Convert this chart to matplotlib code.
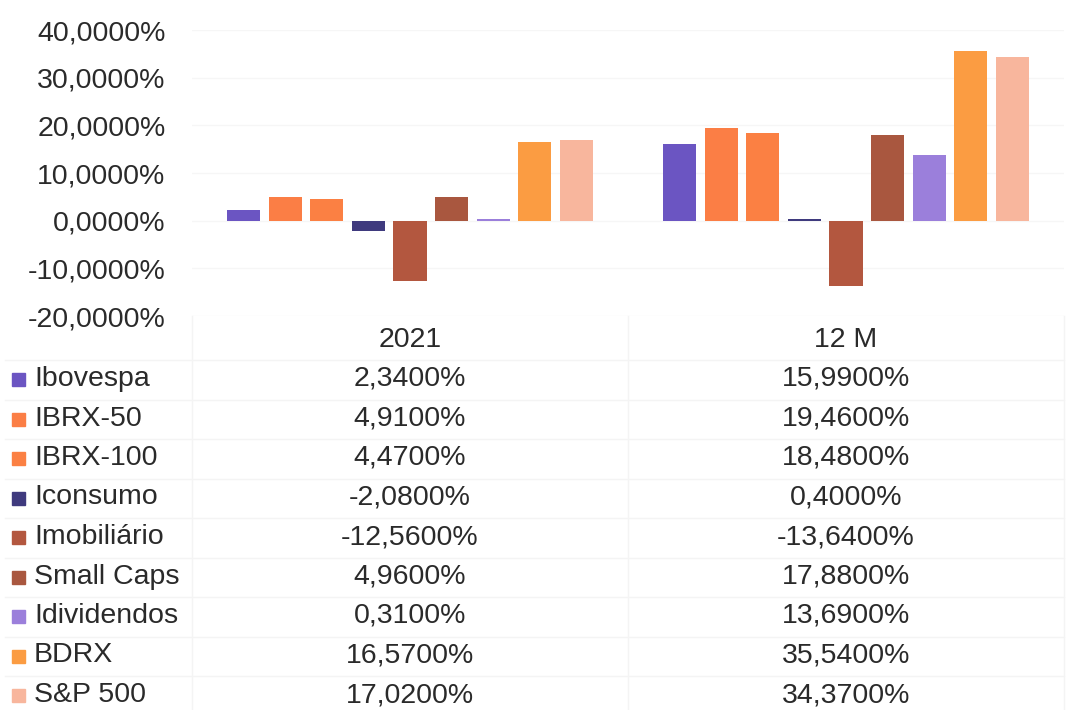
import matplotlib
matplotlib.use("Agg")
import matplotlib.pyplot as plt
import numpy as np

plt.rcParams['font.family'] = ['Liberation Sans', 'DejaVu Sans']

categories = ["2021", "12 M"]
series_names = ["Ibovespa", "IBRX-50", "IBRX-100", "Iconsumo", "Imobiliário",
                "Small Caps", "Idividendos", "BDRX", "S&P 500"]
values_2021 = [2.34, 4.91, 4.47, -2.08, -12.56, 4.96, 0.31, 16.57, 17.02]
values_12m = [15.99, 19.46, 18.48, 0.40, -13.64, 17.88, 13.69, 35.54, 34.37]
colors = ["#6b55c2", "#fb7e45", "#fb8043", "#3f3a7e", "#b3573f",
          "#a9573f", "#9b7fdb", "#fb9c42", "#f8b69d"]
yticks = [-20, -10, 0, 10, 20, 30, 40]

W, H = 1075, 710
fig = plt.figure(figsize=(W / 100, H / 100), dpi=100)

def fx(px):
    return px / W

def fy(py):
    return 1 - py / H

left_px, right_px = 192, 1064
top_px, bot_px = 30, 316
ax = fig.add_axes([fx(left_px), fy(bot_px), fx(right_px) - fx(left_px), fy(top_px) - fy(bot_px)])

n = len(series_names)
step = 0.0952
width = 0.0757
data = np.array([values_2021, values_12m])
x = np.arange(len(categories))
for i, name in enumerate(series_names):
    ax.bar(x + (i - (n - 1) / 2) * step, data[:, i], width=width, color=colors[i], zorder=3)

ax.set_xlim(-0.5, len(categories) - 0.5)
ax.set_ylim(-20, 40)
ax.set_yticks(yticks)
ax.set_yticklabels([f"{v:.4f}".replace('.', ',') + "%" for v in yticks])
ax.set_xticks([])
ax.tick_params(axis='y', length=0, pad=19, labelsize=20.5, labelcolor="#2a2a2a")
for s in ax.spines.values():
    s.set_visible(False)
ax.grid(axis='y', color="#f6f6f6", linewidth=1, zorder=0)
ax.set_axisbelow(True)

# data table
txt_kw = dict(fontsize=20.5, color="#2a2a2a", va='center', ha='center')
col_centers = [410, 846]
header_y = 340
row0 = 379
row_step = 39.5
for c, cat in enumerate(categories):
    fig.text(fx(col_centers[c]), fy(header_y), cat, **txt_kw)
for i, name in enumerate(series_names):
    yy = row0 + i * row_step
    fig.patches.append(plt.Rectangle((fx(12), fy(yy + 7)), fx(13), 13 / H,
                                     transform=fig.transFigure, color=colors[i]))
    fig.text(fx(34), fy(yy), name, fontsize=20.5, color="#2a2a2a", va='center', ha='left')
    for c in range(len(categories)):
        v = data[c, i]
        fig.text(fx(col_centers[c]), fy(yy), f"{v:.4f}".replace('.', ',') + "%", **txt_kw)

# faint table lines
line_col = "#f4f4f4"
for k in range(n + 1):
    yy = header_y + 20 + k * row_step
    fig.add_artist(plt.Line2D([fx(5), fx(right_px)], [fy(yy), fy(yy)], color=line_col, lw=1))
for xx in [left_px, 628, right_px]:
    fig.add_artist(plt.Line2D([fx(xx), fx(xx)], [fy(bot_px), fy(H)], color=line_col, lw=1))

fig.savefig("out.png", dpi=100, facecolor="white")
